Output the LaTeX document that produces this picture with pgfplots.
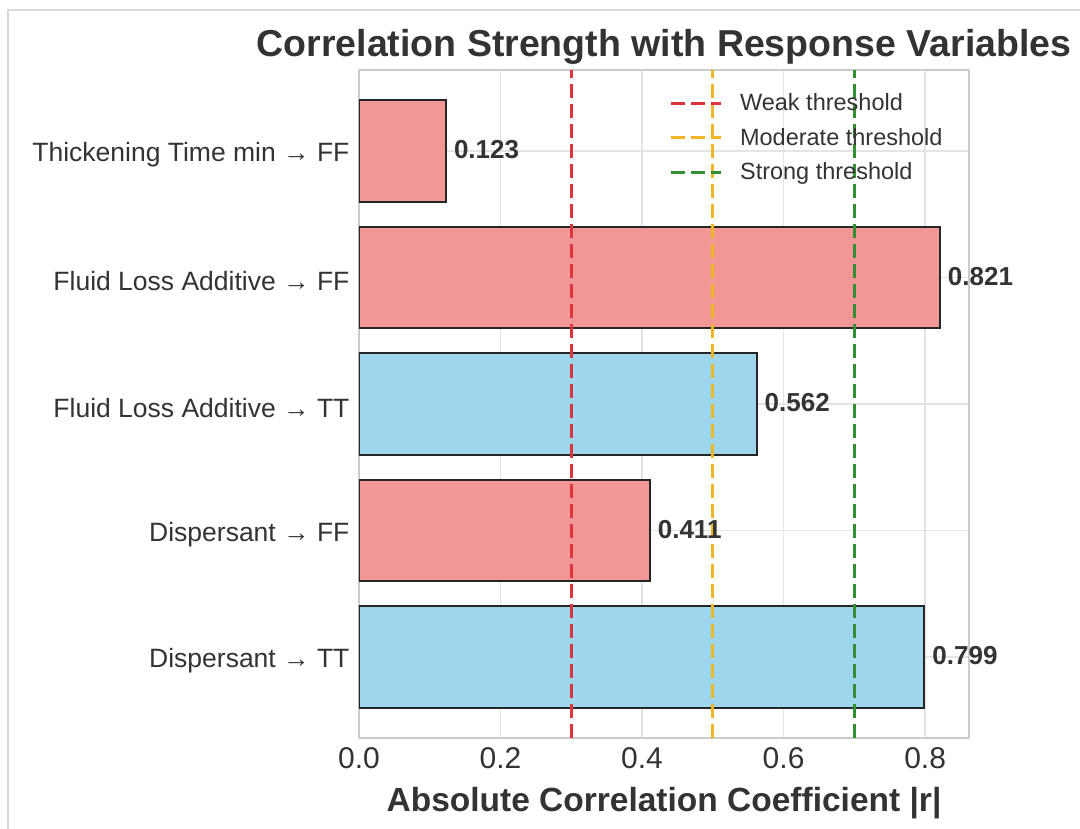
\documentclass[border=0pt]{standalone}
\usepackage{pgfplots}
\usepackage{pgfplotstable}
\pgfplotsset{compat=1.18}
\usepackage{fontspec}
\setmainfont{Liberation Sans}
\definecolor{barred}{RGB}{242,150,150}
\definecolor{barblue}{RGB}{158,214,238}
\definecolor{weak}{RGB}{222,52,64}
\definecolor{moder}{RGB}{240,182,40}
\definecolor{strong}{RGB}{52,142,52}
\definecolor{txt}{RGB}{51,51,51}
\definecolor{gridc}{RGB}{228,228,228}
\definecolor{spine}{RGB}{204,204,204}

\pgfplotstableread{
y v
4 0.123
3 0.821
1 0.411
}\redtab
\pgfplotstableread{
y v
2 0.562
0 0.799
}\bluetab

\begin{document}
\begin{tikzpicture}[x=1pt,y=1pt]
\useasboundingbox (0,0) rectangle (1080,829);
\draw[gray!30, line width=1.5pt] (8,-2) -- (8,819) -- (1085,819);
\begin{axis}[
  at={(359pt,91pt)}, anchor=south west,
  scale only axis, width=610pt, height=668pt,
  xmin=0, xmax=0.862, ymin=-0.64, ymax=4.64,
  xtick={0,0.2,0.4,0.6,0.8},
  /pgf/number format/assume math mode=true,
  xticklabel={\pgfmathprintnumber[fixed,fixed zerofill,precision=1]{\tick}},
  ytick={0,1,2,3,4},
  yticklabels={Dispersant → TT, Dispersant → FF, Fluid Loss Additive → TT, Fluid Loss Additive → FF, Thickening Time min → FF},
  major tick length=0pt,
  yticklabel style={text=txt, font=\fontsize{26.5}{30}\selectfont, xshift=-6pt, yshift=-4pt},
  xticklabel style={text=txt, font=\fontsize{30}{34}\selectfont, yshift=-6pt},
  grid=major, grid style={gridc, line width=1.5pt},
  axis line style={spine, line width=2pt},
  xlabel={Absolute Correlation Coefficient |r|},
  xlabel style={at={(rel axis cs:0.5,0)}, anchor=base, yshift=-74pt, font=\fontsize{33.5}{38}\selectfont\bfseries, text=txt},
  title={Correlation Strength with Response Variables},
  title style={at={(rel axis cs:0.5,1)}, anchor=base, yshift=7pt, font=\fontsize{37.5}{42}\selectfont\bfseries, text=txt},
  legend style={at={(rel axis cs:0.508,0.9645)}, anchor=north west, draw=none, fill=none,
    font=\fontsize{23.5}{28}\selectfont, text=txt, row sep=16pt, inner sep=0pt,
    nodes={inner sep=0pt}, /tikz/every odd column/.append style={column sep=18pt}},
  legend cell align=left,
  legend image code/.code={\draw[#1] (0pt,0pt) -- (50pt,0pt);},
  nodes near coords,
  every node near coord/.append style={anchor=west, inner sep=0pt, xshift=7pt, yshift=1pt, text=txt, font=\fontsize{26}{30}\selectfont\bfseries},
  nodes near coords={\pgfmathprintnumber[fixed,fixed zerofill,precision=3]{\pgfplotspointmeta}},
]
\addplot[xbar, bar width=0.8, bar shift=0pt, fill=barred, draw=black!85, line width=2pt, forget plot, point meta=x]
  table[x=v, y=y] {\redtab};
\addplot[xbar, bar width=0.8, bar shift=0pt, fill=barblue, draw=black!85, line width=2pt, forget plot, point meta=x]
  table[x=v, y=y] {\bluetab};
\addplot[weak, line width=3pt, dash pattern=on 14pt off 6pt, nodes near coords=] coordinates {(0.3,-0.64) (0.3,4.64)};
\addlegendentry{Weak threshold}
\addplot[moder, line width=3pt, dash pattern=on 14pt off 6pt, nodes near coords=] coordinates {(0.5,-0.64) (0.5,4.64)};
\addlegendentry{Moderate threshold}
\addplot[strong, line width=3pt, dash pattern=on 14pt off 6pt, nodes near coords=] coordinates {(0.7,-0.64) (0.7,4.64)};
\addlegendentry{Strong threshold}
\end{axis}
\end{tikzpicture}
\end{document}
